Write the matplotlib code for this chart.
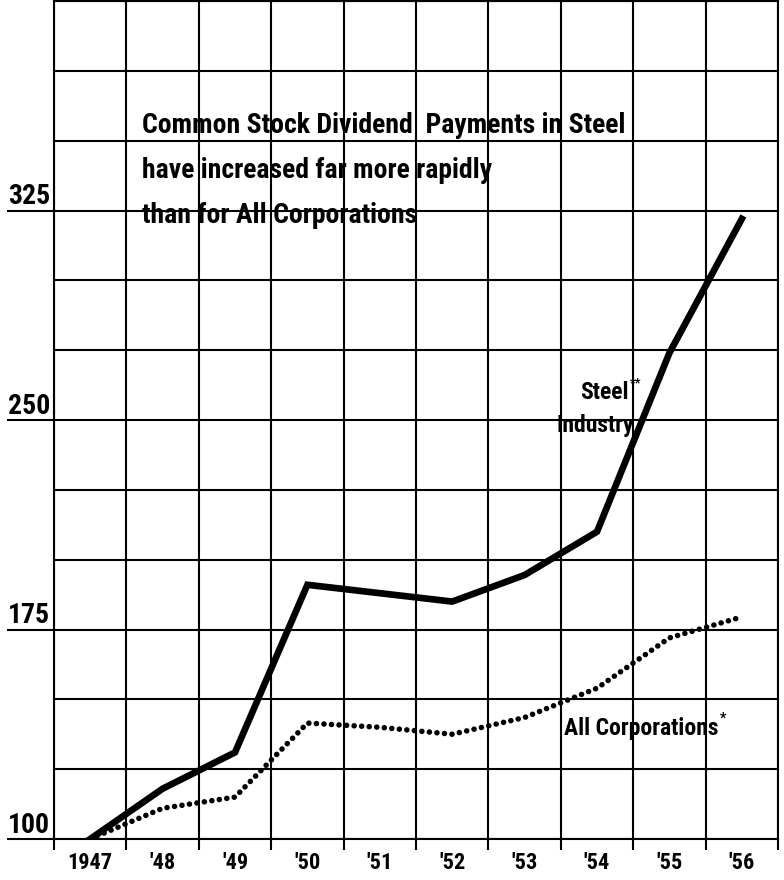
import os
import matplotlib
matplotlib.use('Agg')
import matplotlib.pyplot as plt
from matplotlib import font_manager
from matplotlib.transforms import blended_transform_factory

# data (index, 1947 = 100)
years = [1947, 1948, 1949, 1950, 1951, 1952, 1953, 1954, 1955, 1956]
year_labels = ["1947", "'48", "'49", "'50", "'51", "'52", "'53", "'54", "'55", "'56"]
steel = [100, 118, 131, 191, 188, 185, 194.5, 210, 274, 322]
all_corps = [100, 111, 115, 141.5, 140, 137.5, 143.5, 154, 172, 179.5]
y_labels = [100, 175, 250, 325]
title_lines = ["Common Stock Dividend  Payments in Steel",
               "have increased far more rapidly",
               "than for All Corporations"]


def pick_font():
    # narrowest bold face that happens to be installed
    files = [f.fname for f in font_manager.fontManager.ttflist]
    prefs = ['NotoSans-ExtraCondensedBold.', 'NotoSans-ExtraCondensedExtraBold.',
             'RobotoCondensed-Bold.', 'NotoSans-CondensedBold.',
             'LiberationSansNarrow-Bold.', 'DejaVuSansCondensed-Bold.']
    for p in prefs:
        for f in files:
            if os.path.basename(f).startswith(p):
                return f
    return None


FONT_FILE = pick_font()


def fp(size):
    if FONT_FILE:
        return font_manager.FontProperties(fname=FONT_FILE, size=size)
    return font_manager.FontProperties(family='DejaVu Sans', weight='bold',
                                       size=size * 0.8)


fig = plt.figure(figsize=(7.84, 8.8), dpi=100)
ax = fig.add_axes([54 / 784, 41 / 880, 724 / 784, 838 / 880])

ax.set_xlim(years[0] - 0.5, years[-1] + 0.5)
ax.set_ylim(100, 400)

# x: labels centred in cells, ticks on the cell edges
ax.set_xticks(years)
ax.set_xticklabels(year_labels)
for t in ax.get_xticklabels():
    t.set_fontproperties(fp(16))
ax.set_xticks([y - 0.5 for y in years] + [years[-1] + 0.5], minor=True)
ax.tick_params(axis='x', which='major', length=0, pad=9)
ax.tick_params(axis='x', which='minor', length=8, width=1.5, direction='out')

# y: long ticks under the labelled values, grid every 25
ax.set_yticks(y_labels)
ax.set_yticklabels([])
ax.set_yticks(range(100, 401, 25), minor=True)
ax.tick_params(axis='y', which='major', length=34, width=1.5, direction='out')
ax.tick_params(axis='y', which='minor', length=0)
trans = blended_transform_factory(ax.transAxes, ax.transData)
for v in y_labels:
    ax.text(-0.064, v + 2.3, str(v), transform=trans, ha='left',
            va='baseline', fontproperties=fp(20))

ax.grid(axis='x', which='minor', color='black', linewidth=1.5)
ax.grid(axis='y', which='both', color='black', linewidth=1.5)
for s in ax.spines.values():
    s.set_linewidth(1.5)
ax.set_axisbelow(True)

ax.plot(years, steel, color='black', linewidth=4.8, solid_joinstyle='miter',
        zorder=3)
ax.plot(years, all_corps, color='black', linewidth=4.0,
        linestyle=(0, (0.01, 1.35)), dash_capstyle='round', zorder=3)

for line, yb in zip(title_lines, [352.9, 336.7, 320.6]):
    ax.text(1947.72, yb, line, ha='left', va='baseline', fontproperties=fp(20))

steel_txt = ax.text(1954.43, 257.6, "Steel", ha='right', va='baseline',
                    fontproperties=fp(17))
ax.annotate("**", xy=(1.0, 0.62), xycoords=steel_txt, xytext=(1, 0),
            textcoords='offset points', ha='left', va='bottom',
            fontproperties=fp(9))
ax.text(1954.51, 245.8, "Industry", ha='right', va='baseline',
        fontproperties=fp(17))
corp_txt = ax.text(1953.54, 137.2, "All Corporations", ha='left',
                   va='baseline', fontproperties=fp(17))
ax.annotate("*", xy=(1.0, 0.62), xycoords=corp_txt, xytext=(1, 0),
            textcoords='offset points', ha='left', va='bottom',
            fontproperties=fp(10))

plt.savefig("out.png", dpi=100)
